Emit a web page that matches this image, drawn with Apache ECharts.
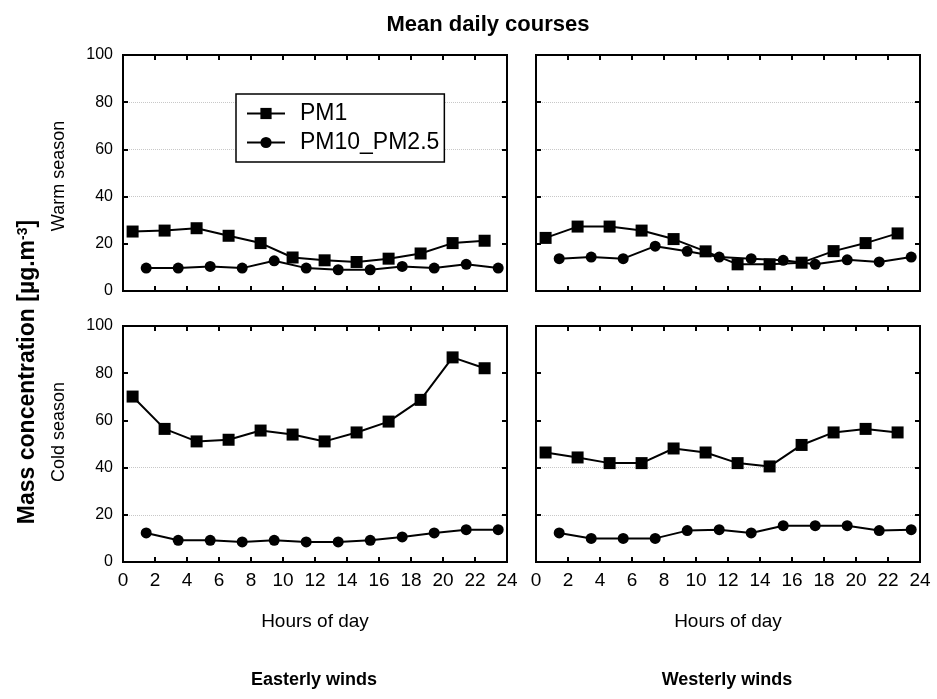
<!DOCTYPE html>
<html>
<head>
<meta charset="utf-8">
<script src="https://cdn.jsdelivr.net/npm/echarts@6/dist/echarts.min.js"></script>
<style>
    body { margin: 0; background: #fff; }
    #chart { width: 937px; height: 699px; }
</style>
</head>
<body>
<div id="chart"></div>
<script>
// hours of the day where the points sit
var hoursPM1 = [0.6, 2.6, 4.6, 6.6, 8.6, 10.6, 12.6, 14.6, 16.6, 18.6, 20.6, 22.6];
var hoursPM10 = [1.45, 3.45, 5.45, 7.45, 9.45, 11.45, 13.45, 15.45, 17.45, 19.45, 21.45, 23.45];

// warm season
var warmEastPM1 = [25.2, 25.6, 26.6, 23.4, 20.3, 14.2, 13.0, 12.3, 13.7, 15.9, 20.3, 21.3];
var warmEastPM10 = [9.7, 9.7, 10.4, 9.7, 12.8, 9.7, 9.0, 9.0, 10.4, 9.7, 11.3, 9.7];
var warmWestPM1 = [22.5, 27.3, 27.3, 25.6, 22.0, 16.8, 11.3, 11.3, 12.0, 16.9, 20.3, 24.4];
var warmWestPM10 = [13.7, 14.4, 13.7, 19.0, 16.8, 14.4, 13.7, 13.0, 11.3, 13.2, 12.3, 14.4];

// cold season
var coldEastPM1 = [70.1, 56.4, 51.1, 51.8, 55.7, 54.0, 51.1, 54.9, 59.5, 68.7, 86.7, 82.1];
var coldEastPM10 = [12.3, 9.2, 9.2, 8.5, 9.2, 8.5, 8.5, 9.2, 10.6, 12.3, 13.7, 13.7];
var coldWestPM1 = [46.4, 44.3, 41.9, 41.9, 48.1, 46.4, 41.9, 40.5, 49.6, 54.9, 56.4, 54.9];
var coldWestPM10 = [12.3, 10.0, 10.0, 10.0, 13.3, 13.7, 12.3, 15.4, 15.4, 15.4, 13.3, 13.7];

var FONT = '"Liberation Sans", Arial, sans-serif';
var GRIDC = '#c8c8c8';

function pairs(xs, ys) {
    var out = [];
    for (var i = 0; i < xs.length; i++) out.push([xs[i], ys[i]]);
    return out;
}

var grids = [
    { left: 123, top: 55, width: 384, height: 236 },
    { left: 536, top: 55, width: 384, height: 236 },
    { left: 123, top: 326, width: 384, height: 236 },
    { left: 536, top: 326, width: 384, height: 236 }
];

var xAxes = [];
var yAxes = [];
grids.forEach(function (g, i) {
    g.show = true;
    g.borderColor = '#000';
    g.borderWidth = 2;
    g.backgroundColor = '#fff';
    var bottomRow = i >= 2;
    var leftCol = i % 2 === 0;
    // bottom and top x axes (ticks inside on both sides)
    ['bottom', 'top'].forEach(function (pos) {
        xAxes.push({
            type: 'value', gridIndex: i, position: pos,
            min: 0, max: 24, interval: 2,
            axisLine: { show: false, onZero: false },
            axisTick: { show: true, inside: true, length: 5, lineStyle: { color: '#000', width: 2 } },
            axisLabel: {
                show: pos === 'bottom' && bottomRow,
                color: '#000', fontSize: 19, fontFamily: FONT, margin: 9
            },
            splitLine: { show: false }
        });
    });
    ['left', 'right'].forEach(function (pos) {
        yAxes.push({
            type: 'value', gridIndex: i, position: pos,
            min: 0, max: 100, interval: 20,
            axisLine: { show: false, onZero: false },
            axisTick: { show: true, inside: true, length: 5, lineStyle: { color: '#000', width: 2 } },
            axisLabel: {
                show: pos === 'left' && leftCol,
                color: '#000', fontSize: 16, fontFamily: FONT, margin: 10
            },
            splitLine: {
                show: pos === 'left',
                lineStyle: {
                    type: 'dotted', width: 1,
                    color: bottomRow
                        ? ['transparent', GRIDC, GRIDC, 'transparent', 'transparent', 'transparent']
                        : ['transparent', 'transparent', GRIDC, GRIDC, GRIDC, 'transparent']
                }
            }
        });
    });
});

var panelData = [
    [warmEastPM1, warmEastPM10],
    [warmWestPM1, warmWestPM10],
    [coldEastPM1, coldEastPM10],
    [coldWestPM1, coldWestPM10]
];

var series = [];
panelData.forEach(function (d, i) {
    series.push({
        name: 'PM1', type: 'line',
        xAxisIndex: i * 2, yAxisIndex: i * 2,
        data: pairs(hoursPM1, d[0]),
        symbol: 'rect', symbolSize: 12,
        lineStyle: { color: '#000', width: 2 },
        itemStyle: { color: '#000' }
    });
    series.push({
        name: 'PM10_PM2.5', type: 'line',
        xAxisIndex: i * 2, yAxisIndex: i * 2,
        data: pairs(hoursPM10, d[1]),
        symbol: 'circle', symbolSize: 11,
        lineStyle: { color: '#000', width: 2 },
        itemStyle: { color: '#000' }
    });
});

function label(text, x, y, size, bold, rot) {
    return {
        type: 'text', x: x, y: y, rotation: rot || 0, z: 10,
        style: {
            text: text, fill: '#000',
            font: (bold ? 'bold ' : '') + size + 'px ' + FONT,
            textAlign: 'center', textVerticalAlign: 'middle'
        }
    };
}

var myChart = echarts.init(document.getElementById('chart'));
myChart.setOption({
    animation: false,
    backgroundColor: '#fff',
    grid: grids,
    xAxis: xAxes,
    yAxis: yAxes,
    legend: {
        data: ['PM1', 'PM10_PM2.5'],
        orient: 'vertical',
        left: 236, top: 94,
        padding: [8, 5, 8, 10],
        itemWidth: 38, itemHeight: 14, itemGap: 6,
        backgroundColor: '#fff',
        borderColor: '#000', borderWidth: 1.5,
        selectedMode: false,
        textStyle: { color: '#000', fontSize: 23, fontFamily: FONT, padding: [0, 0, 0, 10] }
    },
    series: series,
    graphic: [
        label('Mean daily courses', 488, 25, 22, true),
        label('Hours of day', 315, 622, 19, false),
        label('Hours of day', 728, 622, 19, false),
        label('Easterly winds', 314, 680, 18, true),
        label('Westerly winds', 727, 680, 18, true),
        label('Warm season', 59, 176, 18, false, Math.PI / 2),
        label('Cold season', 59, 432, 18, false, Math.PI / 2),
        {
            type: 'text', x: 28, y: 372, rotation: Math.PI / 2, z: 10,
            style: {
                text: '{a|Mass concentration [µg.m}{b|-3}{a|]}',
                textAlign: 'center', textVerticalAlign: 'middle',
                rich: {
                    a: { fontSize: 23, fontWeight: 'bold', fontFamily: FONT, fill: '#000', color: '#000' },
                    b: { fontSize: 14, fontWeight: 'bold', fontFamily: FONT, fill: '#000', color: '#000', verticalAlign: 'top' }
                }
            }
        }
    ]
});
</script>
</body>
</html>
